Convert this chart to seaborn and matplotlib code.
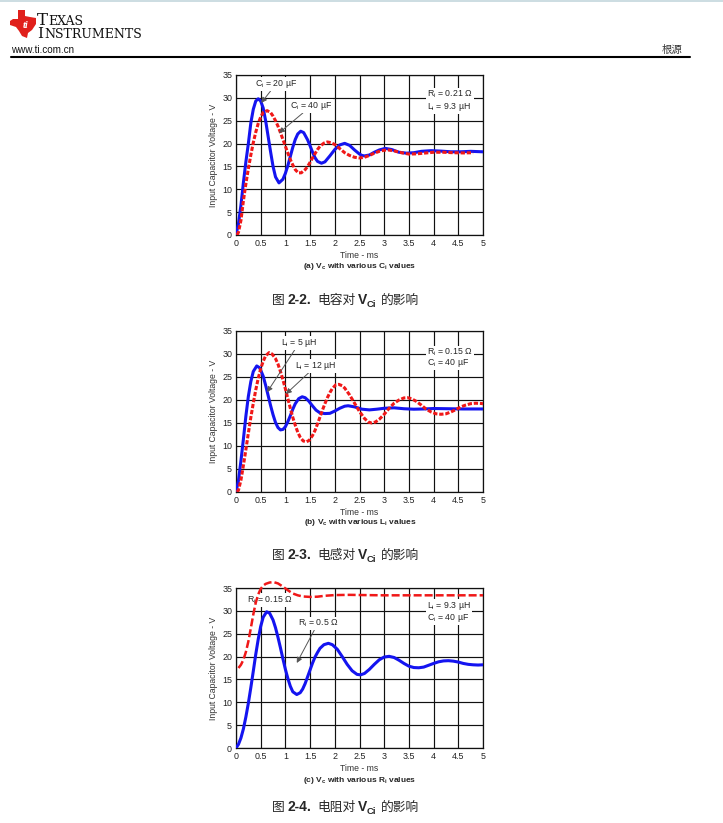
import matplotlib
matplotlib.use("Agg")
import matplotlib.pyplot as plt
from matplotlib.lines import Line2D
from matplotlib.patches import Polygon, Rectangle
import seaborn as sns

W, H = 723, 823

# ---- data (time in ms, voltage in V) ----
a_blue_t = [0, 0.05, 0.1, 0.15, 0.2, 0.25, 0.3, 0.35, 0.4, 0.45, 0.5, 0.55, 0.6, 0.65, 0.7, 0.75, 0.8, 0.87, 0.95, 1.0,
            1.05, 1.1, 1.15, 1.2, 1.25, 1.31, 1.37, 1.45, 1.5, 1.55, 1.6, 1.65, 1.73, 1.8, 1.9, 2.0, 2.1, 2.2, 2.3, 2.4,
            2.5, 2.55, 2.6, 2.7, 2.8, 2.9, 3.02, 3.15, 3.3, 3.45, 3.6, 3.75, 3.95, 4.15, 4.35, 4.55, 4.75, 5.0]
a_blue_v = [0, 2.5, 6.5, 11.5, 16, 20, 24.5, 27.5, 29.3, 29.8, 29.3, 27.8, 25.0, 21.6, 18.2, 15.0, 12.7, 11.4, 12.2, 13.5,
            15.2, 17.2, 19.2, 20.9, 22.1, 22.7, 22.4, 20.8, 19.5, 18.1, 16.9, 16.1, 15.7, 16.0, 17.3, 18.7, 19.7, 20.05, 19.6, 18.6,
            17.7, 17.4, 17.3, 17.5, 18.1, 18.6, 18.95, 18.7, 18.1, 17.9, 18.0, 18.3, 18.45, 18.35, 18.2, 18.2, 18.3, 18.2]
a_red_t = [0.02, 0.05, 0.1, 0.15, 0.2, 0.25, 0.3, 0.35, 0.4, 0.45, 0.5, 0.55, 0.63, 0.7, 0.75, 0.8, 0.85, 0.9, 0.95, 1.0,
           1.05, 1.1, 1.15, 1.2, 1.26, 1.32, 1.4, 1.45, 1.5, 1.55, 1.6, 1.65, 1.7, 1.78, 1.85, 1.92, 2.0, 2.1, 2.2, 2.3,
           2.4, 2.5, 2.6, 2.7, 2.8, 2.9, 3.0, 3.08, 3.2, 3.35, 3.5, 3.65, 3.8, 4.0, 4.2, 4.4, 4.6, 4.8]
a_red_v = [0, 0.6, 3.2, 7.5, 11.2, 14.5, 17.5, 20.2, 22.5, 24.4, 25.8, 26.8, 27.2, 26.8, 26.0, 25.0, 23.8, 22.4, 20.9, 19.4,
           17.9, 16.5, 15.3, 14.3, 13.6, 13.6, 14.3, 15.0, 15.9, 16.9, 17.8, 18.7, 19.4, 20.1, 20.35, 20.2, 19.8, 18.9, 18.0, 17.4,
           17.0, 16.85, 17.0, 17.4, 17.9, 18.3, 18.55, 18.6, 18.4, 18.0, 17.7, 17.75, 17.9, 18.1, 18.1, 18.0, 17.95, 18.0]

b_blue_t = [0, 0.05, 0.1, 0.15, 0.2, 0.25, 0.3, 0.35, 0.42, 0.48, 0.55, 0.6, 0.65, 0.7, 0.75, 0.8, 0.85, 0.9, 0.95, 1.0,
            1.05, 1.1, 1.15, 1.2, 1.27, 1.34, 1.4, 1.47, 1.55, 1.62, 1.7, 1.8, 1.9, 2.0, 2.1, 2.2, 2.27, 2.4, 2.55, 2.7,
            2.85, 3.0, 3.2, 3.4, 3.6, 3.8, 4.0, 4.3, 4.6, 5.0]
b_blue_v = [0, 2.5, 6.8, 11.5, 16.5, 20.8, 24.0, 26.2, 27.4, 27.0, 25.2, 23.2, 21.0, 18.8, 16.8, 15.1, 14.0, 13.5, 13.6, 14.2,
            15.3, 16.6, 18.0, 19.2, 20.3, 20.7, 20.5, 19.8, 18.7, 17.8, 17.2, 17.05, 17.1, 17.6, 18.2, 18.65, 18.75, 18.5, 18.0, 17.85,
            18.0, 18.2, 18.3, 18.1, 18.0, 18.05, 18.15, 18.1, 18.05, 18.05]
b_red_t = [0.02, 0.05, 0.1, 0.15, 0.2, 0.25, 0.3, 0.35, 0.4, 0.45, 0.5, 0.55, 0.6, 0.67, 0.73, 0.8, 0.85, 0.9, 0.95, 1.0,
           1.05, 1.1, 1.15, 1.2, 1.25, 1.3, 1.36, 1.42, 1.48, 1.55, 1.6, 1.65, 1.7, 1.75, 1.8, 1.85, 1.9, 1.95, 2.02, 2.08,
           2.15, 2.2, 2.3, 2.4, 2.5, 2.6, 2.68, 2.75, 2.82, 2.9, 3.0, 3.1, 3.2, 3.3, 3.4, 3.47, 3.55, 3.65, 3.75, 3.85,
           3.95, 4.05, 4.15, 4.25, 4.35, 4.45, 4.55, 4.65, 4.75, 4.85, 4.95, 5.0]
b_red_v = [0, 0.4, 2.6, 5.8, 9.2, 12.8, 16.2, 19.3, 22.2, 24.7, 26.8, 28.4, 29.6, 30.3, 30.0, 29.0, 27.8, 26.2, 24.4, 22.4,
           20.3, 18.2, 16.2, 14.5, 13.0, 11.9, 11.1, 10.9, 11.2, 12.3, 13.4, 14.8, 16.3, 17.8, 19.2, 20.5, 21.6, 22.5, 23.3, 23.4,
           23.1, 22.6, 21.1, 19.3, 17.5, 16.0, 15.2, 15.0, 15.2, 15.8, 16.9, 18.2, 19.3, 20.0, 20.45, 20.5, 20.3, 19.7, 18.9, 18.0,
           17.4, 17.0, 16.9, 17.0, 17.4, 17.9, 18.5, 18.9, 19.2, 19.3, 19.25, 19.2]

c_blue_t = [0, 0.05, 0.1, 0.15, 0.2, 0.25, 0.3, 0.35, 0.4, 0.45, 0.5, 0.55, 0.62, 0.68, 0.75, 0.8, 0.85, 0.9, 0.95, 1.0,
            1.05, 1.1, 1.15, 1.23, 1.3, 1.35, 1.4, 1.45, 1.5, 1.55, 1.6, 1.65, 1.7, 1.78, 1.87, 1.95, 2.05, 2.15, 2.25, 2.35,
            2.45, 2.52, 2.6, 2.7, 2.8, 2.9, 3.0, 3.1, 3.2, 3.3, 3.4, 3.5, 3.6, 3.7, 3.8, 3.9, 4.0, 4.1, 4.2, 4.3,
            4.4, 4.5, 4.6, 4.7, 4.8, 4.9, 5.0]
c_blue_v = [0, 0.8, 2.2, 4.2, 6.8, 9.8, 13.2, 16.8, 20.5, 23.8, 26.6, 28.6, 29.8, 29.5, 28.0, 26.3, 24.2, 21.9, 19.5, 17.2,
            15.2, 13.5, 12.3, 11.7, 12.1, 12.9, 14.1, 15.6, 17.1, 18.6, 19.9, 20.9, 21.8, 22.6, 22.9, 22.6, 21.6, 20.0, 18.3, 16.9,
            16.1, 16.0, 16.3, 17.2, 18.3, 19.3, 19.9, 20.05, 19.8, 19.2, 18.5, 17.9, 17.6, 17.55, 17.7, 18.1, 18.5, 18.85, 19.05, 19.1,
            19.0, 18.8, 18.5, 18.3, 18.2, 18.15, 18.2]
c_red_t = [0.05, 0.1, 0.15, 0.2, 0.25, 0.3, 0.35, 0.4, 0.45, 0.5, 0.55, 0.6, 0.68, 0.76, 0.85, 0.95, 1.05, 1.15, 1.25, 1.35,
           1.5, 1.65, 1.8, 2.0, 2.3, 2.6, 3.0, 3.5, 4.0, 4.5, 5.0]
c_red_v = [17.5, 18.2, 19.3, 21.0, 23.3, 26.2, 29.2, 31.8, 33.6, 34.8, 35.5, 35.9, 36.2, 36.3, 36.0, 35.3, 34.5, 33.8, 33.4, 33.15,
           33.05, 33.1, 33.3, 33.45, 33.5, 33.45, 33.4, 33.4, 33.4, 33.4, 33.4]

X_TICKS = [0, 0.5, 1, 1.5, 2, 2.5, 3, 3.5, 4, 4.5, 5]
X_TICK_LABELS = ["0", "0.5", "1", "1.5", "2", "2.5", "3", "3.5", "4", "4.5", "5"]
Y_TICKS = [0, 5, 10, 15, 20, 25, 30, 35]

SUB_CAPTIONS = [r"(a) V$_\mathbf{c}$ with various C$_\mathbf{i}$ values",
                r"(b) V$_\mathbf{c}$ with various L$_\mathbf{i}$ values",
                r"(c) V$_\mathbf{c}$ with various R$_\mathbf{i}$ values"]
FIG_NUMBERS = ["2-2.", "2-3.", "2-4."]
FIG_SUBJECTS = ["电容对", "电感对", "电阻对"]

BLUE = "#1414f0"
RED = "#f01818"
CJK = "Noto Sans CJK SC"

sns.set_style("white")
plt.rcParams["font.family"] = ["Liberation Sans", "DejaVu Sans", CJK]
plt.rcParams["mathtext.fontset"] = "custom"
plt.rcParams["mathtext.rm"] = "Liberation Sans"
plt.rcParams["mathtext.bf"] = "Liberation Sans:bold"
plt.rcParams["mathtext.default"] = "rm"

fig = plt.figure(figsize=(W / 100, H / 100), dpi=100)


def px(x, y):
    return x / W, 1 - y / H


def rect(left, top, right, bottom):
    return [left / W, 1 - bottom / H, (right - left) / W, (bottom - top) / H]


def style_axes(ax):
    ax.set_xlim(0, 5)
    ax.set_ylim(0, 35)
    ax.set_xticks(X_TICKS)
    ax.set_xticklabels(X_TICK_LABELS)
    ax.set_yticks(Y_TICKS)
    ax.set_axisbelow(True)
    ax.grid(True, color="#111111", lw=0.85)
    ax.tick_params(length=0, pad=2.8, labelsize=6.4, labelcolor="#222222")
    for s in ax.spines.values():
        s.set_color("#111111")
        s.set_linewidth(0.9)
    ax.set_xlabel("Time - ms", fontsize=6.2, color="#333333", labelpad=2)
    ax.set_ylabel("Input Capacitor Voltage - V", fontsize=6.2, color="#333333", labelpad=3)


def note(ax, text, xy, xytext, z=4):
    ax.annotate(text, xy=xy, xytext=xytext, fontsize=6.3, ha="center", va="center", zorder=z,
                bbox=dict(fc="white", ec="none", pad=0.6),
                arrowprops=dict(arrowstyle="-|>", color="#555555", lw=0.7, mutation_scale=8,
                                shrinkA=0, shrinkB=0))


def params(ax, lines, ys):
    for txt, y in zip(lines, ys):
        ax.text(3.87, y, txt, fontsize=6.3, ha="left", va="center", zorder=4,
                bbox=dict(fc="white", ec="none", pad=0.6))


ax_a = fig.add_axes(rect(236, 75, 483, 235))
ax_b = fig.add_axes(rect(236, 331, 483, 492))
ax_c = fig.add_axes(rect(236, 588, 483, 748))
for ax in (ax_a, ax_b, ax_c):
    style_axes(ax)

# (a)
sns.lineplot(x=a_blue_t, y=a_blue_v, ax=ax_a, color=BLUE, lw=2.2, zorder=3)
sns.lineplot(x=a_red_t, y=a_red_v, ax=ax_a, color=RED, lw=2.2, linestyle=(0, (1.4, 0.6)), zorder=3)
note(ax_a, r"C$_i$ = 20 µF", (0.51, 28.9), (0.81, 33.0))
note(ax_a, r"C$_i$ = 40 µF", (0.87, 22.3), (1.52, 28.2))
params(ax_a, [r"R$_i$ = 0.21 Ω", r"L$_i$ = 9.3 µH"], [30.8, 28.0])

# (b)
sns.lineplot(x=b_blue_t, y=b_blue_v, ax=ax_b, color=BLUE, lw=2.2, zorder=3)
sns.lineplot(x=b_red_t, y=b_red_v, ax=ax_b, color=RED, lw=2.2, linestyle=(0, (1.4, 0.6)), zorder=3)
note(ax_b, r"L$_i$ = 5 µH", (0.63, 21.7), (1.28, 32.4))
note(ax_b, r"L$_i$ = 12 µH", (1.01, 21.3), (1.62, 27.4))
params(ax_b, [r"R$_i$ = 0.15 Ω", r"C$_i$ = 40 µF"], [30.4, 28.0])

# (c)
sns.lineplot(x=c_blue_t, y=c_blue_v, ax=ax_c, color=BLUE, lw=2.2, zorder=3)
sns.lineplot(x=c_red_t, y=c_red_v, ax=ax_c, color=RED, lw=1.8, linestyle=(0, (3.2, 1.2)), zorder=3,
             clip_on=False)
ax_c.text(0.69, 32.4, r"R$_i$ = 0.15 Ω", fontsize=6.3, ha="center", va="center", zorder=1.5,
          bbox=dict(fc="white", ec="none", pad=0.6))
note(ax_c, r"R$_i$ = 0.5 Ω", (1.23, 18.6), (1.66, 27.3))
params(ax_c, [r"L$_i$ = 9.3 µH", r"C$_i$ = 40 µF"], [31.1, 28.4])

# sub captions and figure captions
for cap, y in zip(SUB_CAPTIONS, [266, 522, 780]):
    fig.text(*px(360, y), cap, fontsize=6, weight="bold", ha="center", va="center")

for num, subj, base in zip(FIG_NUMBERS, FIG_SUBJECTS, [304, 559, 811]):
    fig.text(*px(272, base), "图", family=CJK, fontsize=9.2, va="baseline")
    fig.text(*px(288, base), num, fontsize=10, weight="bold", va="baseline")
    fig.text(*px(317, base), subj, family=CJK, fontsize=9.2, va="baseline")
    fig.text(*px(358, base), "V", fontsize=10, weight="bold", va="baseline")
    fig.text(*px(367, base + 3), "Ci", fontsize=6.8, weight="bold", va="baseline")
    fig.text(*px(381, base), "的影响", family=CJK, fontsize=9.2, va="baseline")

# page header
fig.add_artist(Rectangle((0, 1 - 2 / H), 1, 2 / H, transform=fig.transFigure, fc="#cddde2", ec="none"))
logo = [(18, 10), (25, 10), (25, 16), (30, 17), (36, 18), (36, 24), (32, 30), (28, 33), (27, 38), (22, 36),
        (19, 31), (16, 27), (10, 25), (10, 21), (13, 19), (18, 19)]
fig.add_artist(Polygon([px(x, y) for x, y in logo], closed=True, transform=fig.transFigure,
                       fc="#e0201b", ec="none"))
fig.text(*px(26, 26), "ti", color="white", fontsize=7.5, weight="bold", style="italic",
         family="Liberation Serif", ha="center", va="center")
fig.text(*px(37, 25), "T", family="DejaVu Serif", fontsize=12, va="baseline", color="#111111")
fig.text(*px(48, 25), "EXAS", family="DejaVu Serif", fontsize=9, va="baseline", color="#111111")
fig.text(*px(37, 38.5), "I", family="DejaVu Serif", fontsize=11, va="baseline", color="#111111")
fig.text(*px(44, 38.5), "NSTRUMENTS", family="DejaVu Serif", fontsize=9, va="baseline", color="#111111")
fig.text(*px(11, 53), "www.ti.com.cn", fontsize=7.1, va="baseline", color="#111111")
fig.text(*px(662, 53), "根源", family=CJK, fontsize=7.5, va="baseline", color="#333333")
fig.add_artist(Line2D([11 / W, 690 / W], [1 - 56.5 / H] * 2, transform=fig.transFigure, color="black", lw=1.5))

fig.savefig("out.png", dpi=100)
